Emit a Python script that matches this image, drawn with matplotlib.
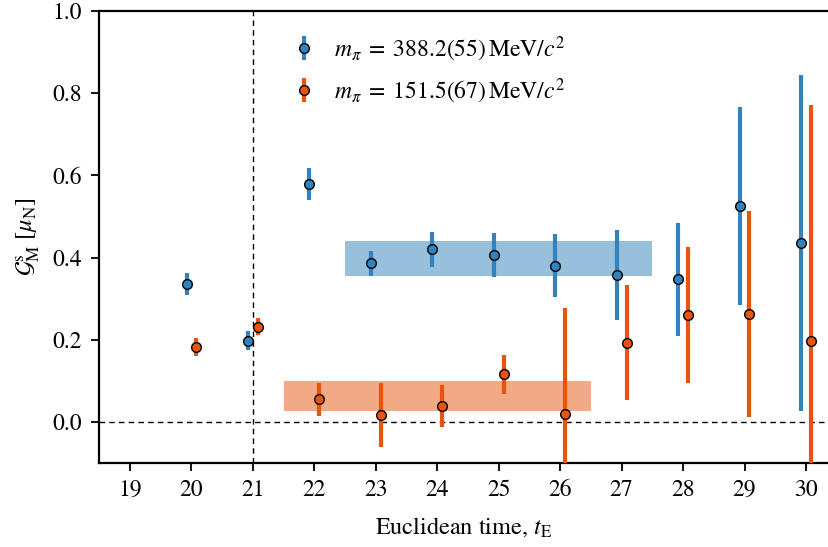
import numpy as np
import matplotlib
matplotlib.use("Agg")
import matplotlib.pyplot as plt

plt.rcParams['font.family'] = 'STIXGeneral'
plt.rcParams['mathtext.fontset'] = 'stix'

t = np.arange(20, 31)

# m_pi = 388.2 MeV
blue_y = [0.336, 0.198, 0.578, 0.386, 0.420, 0.406, 0.380, 0.358, 0.347, 0.526, 0.435]
blue_err = [0.027, 0.024, 0.039, 0.031, 0.042, 0.053, 0.076, 0.110, 0.138, 0.241, 0.408]

# m_pi = 151.5 MeV
orange_y = [0.182, 0.232, 0.055, 0.017, 0.039, 0.116, 0.019, 0.193, 0.260, 0.262, 0.197]
orange_err = [0.022, 0.021, 0.040, 0.078, 0.051, 0.047, 0.258, 0.139, 0.165, 0.250, 0.573]

# fit bands: (t_start, t_end, centre, half width)
blue_band = (22.5, 27.5, 0.397, 0.042)
orange_band = (21.5, 26.5, 0.0635, 0.0365)

blue = '#3182bd'
orange = '#e6550d'

fig = plt.figure(figsize=(8.29, 5.47), dpi=100)
ax = fig.add_axes([0.1194, 0.1536, 0.8806, 0.8264])

ax.axhline(0, color='k', lw=1, ls=(0, (4, 3)), zorder=1)
ax.axvline(21, color='k', lw=1, ls=(0, (4, 3)), zorder=1)

for band, c in [(blue_band, blue), (orange_band, orange)]:
    t0, t1, mid, hw = band
    ax.fill_between([t0, t1], mid - hw, mid + hw, color=c, alpha=0.5, lw=0, zorder=1)

off = 0.08
ax.errorbar(t - off, blue_y, yerr=blue_err, fmt='o', color=blue, ecolor=blue,
            elinewidth=3, capsize=0, ms=7, mec='k', mew=1,
            label=r'$m_\pi\;=\;388.2\left(55\right)\,\mathrm{MeV}/c^2$', zorder=3)
ax.errorbar(t + off, orange_y, yerr=orange_err, fmt='o', color=orange, ecolor=orange,
            elinewidth=3, capsize=0, ms=7, mec='k', mew=1,
            label=r'$m_\pi\;=\;151.5\left(67\right)\,\mathrm{MeV}/c^2$', zorder=3)

ax.set_xlim(18.495, 30.374)
ax.set_ylim(-0.1, 1.0)
ax.set_xticks(np.arange(19, 31))
ax.set_yticks([0.0, 0.2, 0.4, 0.6, 0.8, 1.0])
ax.set_yticklabels(['0.0', '0.2', '0.4', '0.6', '0.8', '1.0'])
ax.tick_params(direction='out', length=6, width=1.3, labelsize=17, pad=6)

ax.spines['right'].set_visible(False)
for s in ['left', 'bottom', 'top']:
    ax.spines[s].set_linewidth(1.6)

ax.set_xlabel(r'Euclidean time, $t_\mathrm{E}$', fontsize=17.5, labelpad=10)
ax.set_ylabel(r'$\mathcal{G}_\mathrm{M}^\mathrm{s}\ \left[\mu_\mathrm{N}\right]$', fontsize=17.5, labelpad=8)

ax.legend(loc='upper left', bbox_to_anchor=(0.235, 0.995), frameon=False,
          fontsize=17, handlelength=1.0, handletextpad=0.8, labelspacing=0.55)

fig.savefig('out.png', dpi=100)
